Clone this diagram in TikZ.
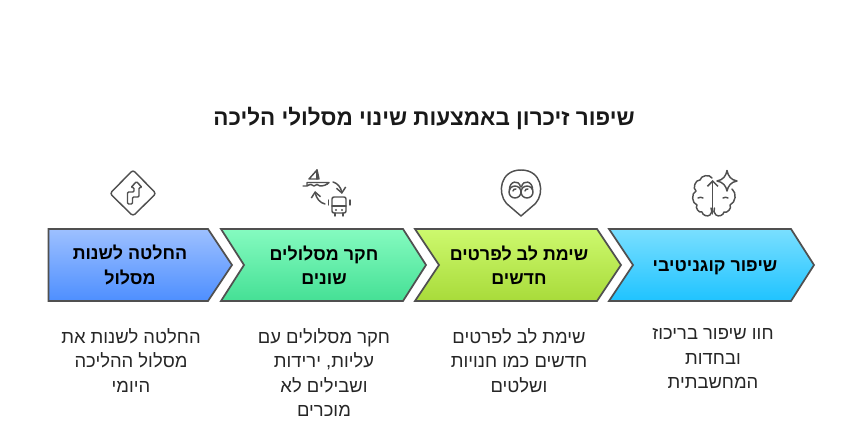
\documentclass[tikz,border=0pt]{standalone}
\usepackage{fontspec}
\setmainfont{Liberation Sans}
\newfontfamily\hebfont[Script=Hebrew]{Liberation Sans}
\TeXXeTstate=1
\usetikzlibrary{positioning,calc,arrows.meta}
\definecolor{edgegray}{RGB}{80,80,80}
\definecolor{blueTop}{RGB}{157,192,255}
\definecolor{blueBot}{RGB}{78,143,255}
\definecolor{greenTop}{RGB}{133,251,192}
\definecolor{greenBot}{RGB}{69,224,149}
\definecolor{limeTop}{RGB}{205,249,110}
\definecolor{limeBot}{RGB}{168,219,58}
\definecolor{cyanTop}{RGB}{122,223,255}
\definecolor{cyanBot}{RGB}{31,195,255}

\begin{document}
\begin{tikzpicture}[x=0.75pt,y=-0.75pt,
    chevron/.style={draw=edgegray,line width=1.3pt,line join=miter},
    label/.style={align=center,font=\hebfont\bfseries\fontsize{13.4}{18.2}\selectfont,text=black},
    note/.style={align=center,anchor=north,font=\hebfont\fontsize{13.8}{18.2}\selectfont,text=black!85},
    icon/.style={draw=edgegray,line width=1.1pt,line join=round,line cap=round}]
    \path[use as bounding box] (0,0) rectangle (848,434);

    % Title
    \node[font=\hebfont\bfseries\fontsize{16.85}{20}\selectfont,text=black!90] at (424,118) (title) {\beginR שיפור זיכרון באמצעות שינוי מסלולי הליכה\endR};

    % Chevrons
    \path[chevron,top color=blueTop,bottom color=blueBot] (48.5,229) -- (208,229) -- (232,265) -- (208,301) -- (48.5,301) -- cycle;
    \path[chevron,top color=greenTop,bottom color=greenBot] (221,229) -- (403,229) -- (426,265) -- (403,301) -- (221,301) -- (244,265) -- cycle;
    \path[chevron,top color=limeTop,bottom color=limeBot] (415,229) -- (597,229) -- (621,265) -- (597,301) -- (415,301) -- (439,265) -- cycle;
    \path[chevron,top color=cyanTop,bottom color=cyanBot] (609,229) -- (791,229) -- (814,265) -- (791,301) -- (609,301) -- (633,265) -- cycle;

    % Chevron labels
    \node[label] at (130,265) (decide) {\beginR החלטה לשנות\endR\\\beginR מסלול\endR};
    \node[label] at (324,265) (explore) {\beginR חקר מסלולים\endR\\\beginR שונים\endR};
    \node[label] at (519,265) (notice) {\beginR שימת לב לפרטים\endR\\\beginR חדשים\endR};
    \node[label] at (715,267.5) (cognitive) {\beginR שיפור קוגניטיבי\endR};

    % Descriptions
    \node[note] at (131,324) (decideText) {\beginR החלטה לשנות את\endR\\\beginR מסלול ההליכה\endR\\\beginR היומי\endR};
    \node[note] at (324,324) (exploreText) {\beginR חקר מסלולים עם\endR\\\beginR עליות, ירידות\endR\\\beginR ושבילים לא\endR\\\beginR מוכרים\endR};
    \node[note] at (519,324) (noticeText) {\beginR שימת לב לפרטים\endR\\\beginR חדשים כמו חנויות\endR\\\beginR ושלטים\endR};
    \node[note] at (713,324) (cognitiveText) {\beginR חוו שיפור בריכוז\endR\\\beginR ובחדות\endR\\\beginR המחשבתית\endR};

    % Road sign icon
    \draw[icon,rounded corners=2pt] (133,170) -- (156,193.5) -- (133,216) -- (110,193.5) -- cycle;
    \draw[icon,rounded corners=0.8pt] (127.5,204) -- (127.5,192) -- (134,192) -- (134,187.5) -- (131,187.5) -- (136.5,181.5) -- (142,187.5) -- (139,187.5) -- (139,197) -- (132.5,197) -- (132.5,204) -- cycle;

    % Boat and bus icon
    \draw[icon] (309,179) -- (317,170) -- (319,179) -- cycle;
    \draw[icon] (317,170) -- (317,179);
    \draw[icon] (303,186) -- (307,186) .. controls (310,184) and (312,184) .. (314,186) .. controls (316,184) and (318,184) .. (320,186) .. controls (323,186) and (327,185) .. (329,182.5) -- (307,182.5) -- (307,186);
    \draw[icon,-{Straight Barb[length=4pt,width=7pt]}] (333,182) .. controls (337,183) and (341,187) .. (342,194);
    \draw[icon,-{Straight Barb[length=4pt,width=7pt]}] (325,204) .. controls (320,203) and (316,198) .. (315,191);
    \draw[icon,rounded corners=1.5pt] (332,197) rectangle (346,213);
    \draw[icon] (332,206) -- (346,206);
    \draw[icon] (335,213) -- (335,216);
    \draw[icon] (343,213) -- (343,216);
    \draw[icon] (328.5,200) -- (328.5,205);
    \draw[icon] (350,200) -- (350,205);
    \fill[edgegray] (336,210) circle (1.2);
    \fill[edgegray] (342,210) circle (1.2);

    % Binocular pin icon
    \draw[icon] (521,216) -- (506.5,203.5) .. controls (497,193) and (500,170) .. (521,170) .. controls (542,170) and (545,193) .. (535.5,203.5) -- cycle;
    \draw[icon] (515,192) circle (6);
    \draw[icon] (527,192) circle (6);
    \draw[icon] (509.5,190) .. controls (509,181) and (519,179) .. (520.5,187);
    \draw[icon] (521.5,187) .. controls (523,179) and (533,181) .. (532.5,190);
    \draw[icon] (513,191) to[bend left=50] (516,189);
    \draw[icon] (525,191) to[bend left=50] (528,189);

    % Brain icon
    \draw[icon] (711,208) to[bend left=40] (710,215) to[bend left=60] (702,212) to[bend left=80] (697,205) to[bend left=70] (696,191) to[bend left=80] (700,180) to[bend left=70] (712,178);
    \draw[icon] (714.5,208) to[bend right=40] (716,215) to[bend right=60] (724,212) to[bend right=80] (730,205) to[bend right=60] (732,189);
    \draw[icon] (698,198) to[bend left=30] (703,198);
    \draw[icon] (728,198) to[bend right=30] (723,198);
    \draw[icon,-{Straight Barb[length=4pt,width=8pt]}] (712.7,214) -- (712.7,180);
    \draw[icon] (727,170.5) .. controls (728,176) and (731,180) .. (737,181) .. controls (731,182) and (728,186) .. (727,191) .. controls (726,186) and (723,182) .. (717,181) .. controls (723,180) and (726,176) .. (727,170.5) -- cycle;
\end{tikzpicture}
\end{document}
